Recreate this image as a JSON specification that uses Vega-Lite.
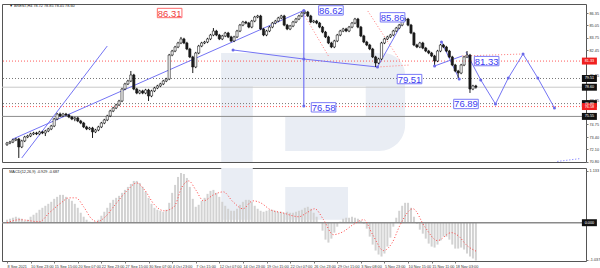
{
"$schema": "https://vega.github.io/schema/vega-lite/v6.json",
"padding": {"left": 0, "right": 0, "top": 3, "bottom": 0},
"spacing": 2,
"background": "#ffffff",
"config": {"view": {"stroke": "#555555", "strokeWidth": 1}, "axis": {"labelFont": "Liberation Sans", "labelFontSize": 3.8, "labelColor": "#333333", "domain": false, "grid": false, "tickSize": 2, "tickColor": "#777777", "labelPadding": 1}},
"datasets": {
"candles": [
{"b":0,"o":72.60,"h":72.89,"l":72.48,"c":72.77},{"b":2,"o":72.77,"h":73.00,"l":72.65,"c":72.88},{"b":4,"o":72.88,"h":73.21,"l":72.76,"c":73.09},{"b":6,"o":73.09,"h":73.31,"l":72.97,"c":73.19},{"b":8,"o":73.19,"h":73.31,"l":71.21,"c":72.36},{"b":10,"o":72.36,"h":73.11,"l":72.24,"c":72.99},{"b":12,"o":72.99,"h":73.52,"l":72.87,"c":73.40},{"b":14,"o":73.40,"h":73.63,"l":73.28,"c":73.51},{"b":16,"o":73.51,"h":73.84,"l":73.39,"c":73.72},{"b":18,"o":73.72,"h":73.94,"l":73.60,"c":73.82},
{"b":20,"o":73.82,"h":73.94,"l":73.60,"c":73.72},{"b":22,"o":73.72,"h":74.05,"l":73.60,"c":73.93},{"b":24,"o":73.93,"h":74.05,"l":73.70,"c":73.82},{"b":26,"o":73.82,"h":74.15,"l":73.50,"c":74.03},{"b":28,"o":74.03,"h":74.36,"l":73.91,"c":74.24},{"b":30,"o":74.24,"h":74.67,"l":74.12,"c":74.55},{"b":32,"o":74.55,"h":75.40,"l":74.43,"c":75.28},{"b":34,"o":75.28,"h":75.92,"l":75.16,"c":75.80},{"b":36,"o":75.80,"h":75.95,"l":75.48,"c":75.60},{"b":38,"o":75.60,"h":75.92,"l":75.48,"c":75.80},
{"b":40,"o":75.80,"h":75.92,"l":75.58,"c":75.70},{"b":42,"o":75.70,"h":75.82,"l":75.37,"c":75.49},{"b":44,"o":75.49,"h":75.61,"l":75.16,"c":75.28},{"b":46,"o":75.28,"h":75.51,"l":75.05,"c":75.39},{"b":48,"o":75.39,"h":75.51,"l":74.95,"c":75.07},{"b":50,"o":75.07,"h":75.19,"l":74.74,"c":74.86},{"b":52,"o":74.86,"h":74.98,"l":74.33,"c":74.45},{"b":54,"o":74.45,"h":74.57,"l":74.12,"c":74.24},{"b":56,"o":74.24,"h":74.46,"l":74.12,"c":74.34},{"b":58,"o":74.34,"h":74.46,"l":73.30,"c":73.93},
{"b":60,"o":73.93,"h":74.25,"l":73.81,"c":74.13},{"b":62,"o":74.13,"h":74.57,"l":74.01,"c":74.45},{"b":64,"o":74.45,"h":74.98,"l":74.33,"c":74.86},{"b":66,"o":74.86,"h":75.30,"l":74.74,"c":75.18},{"b":68,"o":75.18,"h":75.72,"l":75.06,"c":75.60},{"b":70,"o":75.60,"h":76.24,"l":75.48,"c":76.12},{"b":72,"o":76.12,"h":76.55,"l":76.00,"c":76.43},{"b":74,"o":76.43,"h":76.87,"l":76.31,"c":76.75},{"b":76,"o":76.75,"h":77.28,"l":76.63,"c":77.16},{"b":78,"o":77.16,"h":78.53,"l":77.04,"c":78.41},
{"b":80,"o":78.41,"h":79.06,"l":78.29,"c":78.94},{"b":82,"o":78.94,"h":79.37,"l":78.82,"c":79.25},{"b":84,"o":79.25,"h":80.29,"l":79.13,"c":79.88},{"b":86,"o":79.88,"h":80.00,"l":78.29,"c":78.41},{"b":88,"o":78.41,"h":78.53,"l":77.87,"c":77.99},{"b":90,"o":77.99,"h":78.33,"l":77.87,"c":78.21},{"b":92,"o":78.21,"h":78.33,"l":77.87,"c":77.99},{"b":94,"o":77.99,"h":78.43,"l":77.87,"c":78.31},{"b":96,"o":78.31,"h":78.43,"l":77.16,"c":77.68},{"b":98,"o":77.68,"h":78.33,"l":77.56,"c":78.21},
{"b":100,"o":78.21,"h":78.64,"l":78.09,"c":78.52},{"b":102,"o":78.52,"h":78.85,"l":78.40,"c":78.73},{"b":104,"o":78.73,"h":79.06,"l":78.61,"c":78.94},{"b":106,"o":78.94,"h":79.37,"l":78.82,"c":79.25},{"b":108,"o":79.25,"h":79.58,"l":79.13,"c":79.46},{"b":110,"o":79.46,"h":82.08,"l":79.34,"c":81.96},{"b":112,"o":81.96,"h":82.50,"l":81.84,"c":82.38},{"b":114,"o":82.38,"h":82.92,"l":82.26,"c":82.80},{"b":116,"o":82.80,"h":83.34,"l":82.68,"c":83.22},{"b":118,"o":83.22,"h":83.85,"l":83.10,"c":83.64},
{"b":120,"o":83.64,"h":83.76,"l":83.10,"c":83.22},{"b":122,"o":83.22,"h":83.34,"l":82.47,"c":82.59},{"b":124,"o":82.59,"h":82.71,"l":81.64,"c":81.76},{"b":126,"o":81.76,"h":81.88,"l":80.08,"c":80.71},{"b":128,"o":80.71,"h":82.29,"l":80.59,"c":82.17},{"b":130,"o":82.17,"h":83.02,"l":82.05,"c":82.90},{"b":132,"o":82.90,"h":83.34,"l":82.78,"c":83.22},{"b":134,"o":83.22,"h":83.44,"l":83.10,"c":83.32},{"b":136,"o":83.32,"h":83.76,"l":83.20,"c":83.64},{"b":138,"o":83.64,"h":84.17,"l":83.52,"c":84.05},
{"b":140,"o":84.05,"h":84.78,"l":83.93,"c":84.47},{"b":142,"o":84.47,"h":84.59,"l":83.93,"c":84.05},{"b":144,"o":84.05,"h":84.17,"l":83.52,"c":83.64},{"b":146,"o":83.64,"h":84.07,"l":83.52,"c":83.95},{"b":148,"o":83.95,"h":84.38,"l":83.83,"c":84.26},{"b":150,"o":84.26,"h":84.38,"l":83.73,"c":83.85},{"b":152,"o":83.85,"h":83.97,"l":83.31,"c":83.43},{"b":154,"o":83.43,"h":83.97,"l":83.31,"c":83.85},{"b":156,"o":83.85,"h":84.59,"l":83.73,"c":84.47},{"b":158,"o":84.47,"h":85.21,"l":84.35,"c":85.09},
{"b":160,"o":85.09,"h":85.53,"l":84.97,"c":85.41},{"b":162,"o":85.41,"h":85.53,"l":85.18,"c":85.30},{"b":164,"o":85.30,"h":85.42,"l":84.76,"c":84.88},{"b":166,"o":84.88,"h":85.63,"l":84.76,"c":85.51},{"b":168,"o":85.51,"h":86.05,"l":85.39,"c":85.93},{"b":170,"o":85.93,"h":86.16,"l":85.81,"c":86.04},{"b":172,"o":86.04,"h":86.16,"l":84.56,"c":84.68},{"b":174,"o":84.68,"h":84.80,"l":83.93,"c":84.05},{"b":176,"o":84.05,"h":84.59,"l":83.93,"c":84.47},{"b":178,"o":84.47,"h":85.00,"l":84.35,"c":84.88},
{"b":180,"o":84.88,"h":85.42,"l":84.76,"c":85.30},{"b":182,"o":85.30,"h":85.63,"l":85.18,"c":85.51},{"b":184,"o":85.51,"h":85.95,"l":85.39,"c":85.83},{"b":186,"o":85.83,"h":86.16,"l":85.71,"c":86.04},{"b":188,"o":86.04,"h":86.16,"l":84.97,"c":85.09},{"b":190,"o":85.09,"h":85.21,"l":84.56,"c":84.68},{"b":192,"o":84.68,"h":85.11,"l":84.56,"c":84.99},{"b":194,"o":84.99,"h":85.53,"l":84.87,"c":85.41},{"b":196,"o":85.41,"h":85.84,"l":85.29,"c":85.72},{"b":198,"o":85.72,"h":86.16,"l":85.60,"c":86.04},
{"b":200,"o":86.04,"h":86.47,"l":85.92,"c":86.35},{"b":202,"o":86.35,"h":86.62,"l":86.23,"c":86.45},{"b":204,"o":86.45,"h":86.57,"l":85.92,"c":86.04},{"b":206,"o":86.04,"h":86.16,"l":85.29,"c":85.41},{"b":208,"o":85.41,"h":85.63,"l":85.29,"c":85.51},{"b":210,"o":85.51,"h":85.63,"l":85.18,"c":85.30},{"b":212,"o":85.30,"h":85.42,"l":84.76,"c":84.88},{"b":214,"o":84.88,"h":85.00,"l":84.24,"c":84.36},{"b":216,"o":84.36,"h":84.48,"l":83.73,"c":83.85},{"b":218,"o":83.85,"h":83.97,"l":83.10,"c":83.22},
{"b":220,"o":83.22,"h":83.34,"l":82.68,"c":82.80},{"b":222,"o":82.80,"h":83.55,"l":82.68,"c":83.43},{"b":224,"o":83.43,"h":84.17,"l":83.31,"c":84.05},{"b":226,"o":84.05,"h":84.59,"l":83.93,"c":84.47},{"b":228,"o":84.47,"h":84.80,"l":84.35,"c":84.68},{"b":230,"o":84.68,"h":84.80,"l":84.35,"c":84.47},{"b":232,"o":84.47,"h":85.00,"l":84.35,"c":84.88},{"b":234,"o":84.88,"h":85.42,"l":84.76,"c":85.30},{"b":236,"o":85.30,"h":85.84,"l":85.18,"c":85.72},{"b":238,"o":85.72,"h":85.84,"l":84.76,"c":84.88},
{"b":240,"o":84.88,"h":85.00,"l":83.83,"c":83.95},{"b":242,"o":83.95,"h":84.07,"l":83.20,"c":83.32},{"b":244,"o":83.32,"h":83.44,"l":82.89,"c":83.01},{"b":246,"o":83.01,"h":83.13,"l":82.47,"c":82.59},{"b":248,"o":82.59,"h":82.71,"l":81.64,"c":81.76},{"b":250,"o":81.76,"h":81.88,"l":80.71,"c":81.13},{"b":252,"o":81.13,"h":81.67,"l":81.01,"c":81.55},{"b":254,"o":81.55,"h":83.34,"l":81.43,"c":83.22},{"b":256,"o":83.22,"h":83.76,"l":83.10,"c":83.64},{"b":258,"o":83.64,"h":83.97,"l":83.52,"c":83.85},
{"b":260,"o":83.85,"h":84.17,"l":83.73,"c":84.05},{"b":262,"o":84.05,"h":84.59,"l":83.93,"c":84.47},{"b":264,"o":84.47,"h":84.90,"l":84.35,"c":84.78},{"b":266,"o":84.78,"h":85.21,"l":84.66,"c":85.09},{"b":268,"o":85.09,"h":85.74,"l":84.97,"c":85.62},{"b":270,"o":85.62,"h":85.86,"l":85.50,"c":85.72},{"b":272,"o":85.72,"h":85.84,"l":84.97,"c":85.09},{"b":274,"o":85.09,"h":85.21,"l":84.14,"c":84.26},{"b":276,"o":84.26,"h":84.38,"l":82.89,"c":83.01},{"b":278,"o":83.01,"h":83.13,"l":82.68,"c":82.80},
{"b":280,"o":82.80,"h":83.34,"l":82.68,"c":83.22},{"b":282,"o":83.22,"h":83.34,"l":82.57,"c":82.69},{"b":284,"o":82.69,"h":82.81,"l":82.26,"c":82.38},{"b":286,"o":82.38,"h":82.50,"l":82.05,"c":82.17},{"b":288,"o":82.17,"h":82.29,"l":81.74,"c":81.86},{"b":290,"o":81.86,"h":81.98,"l":80.85,"c":81.34},{"b":292,"o":81.34,"h":82.50,"l":81.22,"c":82.38},{"b":294,"o":82.38,"h":83.13,"l":82.26,"c":83.01},{"b":296,"o":83.01,"h":83.13,"l":82.68,"c":82.80},{"b":298,"o":82.80,"h":82.92,"l":82.26,"c":82.38},
{"b":300,"o":82.38,"h":82.50,"l":81.64,"c":81.76},{"b":302,"o":81.76,"h":81.88,"l":80.80,"c":80.92},{"b":304,"o":80.92,"h":81.04,"l":80.17,"c":80.29},{"b":306,"o":80.29,"h":80.41,"l":79.51,"c":80.08},{"b":308,"o":80.08,"h":81.04,"l":79.96,"c":80.92},{"b":310,"o":80.92,"h":81.88,"l":80.80,"c":81.76},{"b":312,"o":81.76,"h":82.38,"l":81.64,"c":81.96},{"b":314,"o":81.96,"h":82.08,"l":78.00,"c":78.41},{"b":316,"o":78.41,"h":78.85,"l":78.29,"c":78.73},{"b":318,"o":78.73,"h":78.85,"l":78.45,"c":78.60}
],
"hist": [
{"b":0,"v":0.06},{"b":2,"v":0.08},{"b":4,"v":0.10},{"b":6,"v":0.12},{"b":8,"v":0.10},{"b":10,"v":0.08},{"b":12,"v":0.04},{"b":14,"v":0.06},{"b":16,"v":0.12},{"b":18,"v":0.16},
{"b":20,"v":0.20},{"b":22,"v":0.26},{"b":24,"v":0.30},{"b":26,"v":0.34},{"b":28,"v":0.38},{"b":30,"v":0.42},{"b":32,"v":0.48},{"b":34,"v":0.52},{"b":36,"v":0.56},{"b":38,"v":0.56},
{"b":40,"v":0.52},{"b":42,"v":0.48},{"b":44,"v":0.44},{"b":46,"v":0.38},{"b":48,"v":0.30},{"b":50,"v":0.20},{"b":52,"v":0.12},{"b":54,"v":0.06},{"b":56,"v":0.02},{"b":58,"v":-0.01},
{"b":60,"v":0.02},{"b":62,"v":0.06},{"b":64,"v":0.14},{"b":66,"v":0.22},{"b":68,"v":0.30},{"b":70,"v":0.40},{"b":72,"v":0.46},{"b":74,"v":0.50},{"b":76,"v":0.54},{"b":78,"v":0.60},
{"b":80,"v":0.66},{"b":82,"v":0.72},{"b":84,"v":0.78},{"b":86,"v":0.84},{"b":88,"v":0.84},{"b":90,"v":0.80},{"b":92,"v":0.72},{"b":94,"v":0.62},{"b":96,"v":0.50},{"b":98,"v":0.38},
{"b":100,"v":0.30},{"b":102,"v":0.26},{"b":104,"v":0.24},{"b":106,"v":0.22},{"b":108,"v":0.26},{"b":110,"v":0.40},{"b":112,"v":0.60},{"b":114,"v":0.76},{"b":116,"v":0.92},{"b":118,"v":1.00},
{"b":120,"v":0.98},{"b":122,"v":0.90},{"b":124,"v":0.72},{"b":126,"v":0.48},{"b":128,"v":0.32},{"b":130,"v":0.36},{"b":132,"v":0.44},{"b":134,"v":0.50},{"b":136,"v":0.58},{"b":138,"v":0.64},
{"b":140,"v":0.66},{"b":142,"v":0.60},{"b":144,"v":0.52},{"b":146,"v":0.42},{"b":148,"v":0.34},{"b":150,"v":0.28},{"b":152,"v":0.24},{"b":154,"v":0.24},{"b":156,"v":0.28},{"b":158,"v":0.36},
{"b":160,"v":0.42},{"b":162,"v":0.46},{"b":164,"v":0.46},{"b":166,"v":0.42},{"b":168,"v":0.34},{"b":170,"v":0.28},{"b":172,"v":0.24},{"b":174,"v":0.22},{"b":176,"v":0.24},{"b":178,"v":0.26},
{"b":180,"v":0.26},{"b":182,"v":0.24},{"b":184,"v":0.22},{"b":186,"v":0.22},{"b":188,"v":0.20},{"b":190,"v":0.22},{"b":192,"v":0.20},{"b":194,"v":0.20},{"b":196,"v":0.22},{"b":198,"v":0.24},
{"b":200,"v":0.26},{"b":202,"v":0.30},{"b":204,"v":0.32},{"b":206,"v":0.28},{"b":208,"v":0.20},{"b":210,"v":0.12},{"b":212,"v":0.00},{"b":214,"v":-0.16},{"b":216,"v":-0.34},{"b":218,"v":-0.40},
{"b":220,"v":-0.32},{"b":222,"v":-0.20},{"b":224,"v":-0.08},{"b":226,"v":0.02},{"b":228,"v":0.08},{"b":230,"v":0.10},{"b":232,"v":0.10},{"b":234,"v":0.12},{"b":236,"v":0.10},{"b":238,"v":0.08},
{"b":240,"v":0.04},{"b":242,"v":-0.02},{"b":244,"v":-0.12},{"b":246,"v":-0.28},{"b":248,"v":-0.44},{"b":250,"v":-0.56},{"b":252,"v":-0.64},{"b":254,"v":-0.68},{"b":256,"v":-0.62},{"b":258,"v":-0.48},
{"b":260,"v":-0.30},{"b":262,"v":-0.08},{"b":264,"v":0.10},{"b":266,"v":0.24},{"b":268,"v":0.34},{"b":270,"v":0.40},{"b":272,"v":0.40},{"b":274,"v":0.30},{"b":276,"v":0.12},{"b":278,"v":-0.02},
{"b":280,"v":-0.14},{"b":282,"v":-0.22},{"b":284,"v":-0.32},{"b":286,"v":-0.42},{"b":288,"v":-0.48},{"b":290,"v":-0.50},{"b":292,"v":-0.44},{"b":294,"v":-0.36},{"b":296,"v":-0.28},{"b":298,"v":-0.28},
{"b":300,"v":-0.34},{"b":302,"v":-0.44},{"b":304,"v":-0.52},{"b":306,"v":-0.52},{"b":308,"v":-0.50},{"b":310,"v":-0.54},{"b":312,"v":-0.62},{"b":314,"v":-0.68},{"b":316,"v":-0.72},{"b":318,"v":-0.76}
],
"signal": [
{"b":0,"v":0.00},{"b":8.7,"v":0.06},{"b":22,"v":0.02},{"b":28.7,"v":0.20},{"b":36.7,"v":0.40},{"b":42,"v":0.50},{"b":46.7,"v":0.50},{"b":52,"v":0.32},{"b":57.3,"v":0.08},{"b":61.3,"v":0.02},{"b":66.7,"v":0.12},{"b":73.3,"v":0.36},{"b":81.3,"v":0.64},{"b":88,"v":0.80},{"b":93.3,"v":0.66},{"b":100,"v":0.36},{"b":106.7,"v":0.24},{"b":113.3,"v":0.32},{"b":118.7,"v":0.72},{"b":123.3,"v":0.84},{"b":128,"v":0.66},{"b":133.3,"v":0.44},{"b":140,"v":0.56},{"b":146.7,"v":0.62},{"b":153.3,"v":0.42},{"b":160,"v":0.28},{"b":166.7,"v":0.44},{"b":172,"v":0.40},{"b":178.7,"v":0.26},{"b":186.7,"v":0.20},{"b":198,"v":0.12},{"b":203.3,"v":0.20},{"b":208.7,"v":0.28},{"b":214.7,"v":0.06},{"b":221.3,"v":-0.24},{"b":228,"v":-0.18},{"b":234.7,"v":-0.04},{"b":242,"v":0.06},{"b":248,"v":-0.24},{"b":255.3,"v":-0.56},{"b":261.3,"v":-0.40},{"b":266.7,"v":-0.04},{"b":275.3,"v":0.28},{"b":283.3,"v":-0.08},{"b":292,"v":-0.36},{"b":301.3,"v":-0.20},{"b":306.7,"v":-0.28},{"b":311.3,"v":-0.44},{"b":318.7,"v":-0.58}
]
},
"vconcat": [
{
"width": 584, "height": 158,
"resolve": {"axis": {"x": "independent", "y": "independent"}},
"layer": [
{"data": {"values": [{"b":145.3,"b2":270,"p":82.17,"p2":71.94}]}, "mark": {"type":"rect","fill":"#e9edf4","cornerRadiusTopRight":22,"cornerRadiusBottomRight":26},
 "encoding": {"x":{"field":"b","type":"quantitative","scale":{"domain":[0,389.3],"nice":false,"zero":false},"axis":null},"x2":{"field":"b2"},"y":{"field":"p","type":"quantitative","scale":{"domain":[70.79,87.29],"nice":false,"zero":false},"axis":null},"y2":{"field":"p2"}}},
{"data": {"values": [{"b":145.3,"b2":166.7,"p":82.17,"p2":70.79}]}, "mark": {"type":"rect","fill":"#e9edf4"},
 "encoding": {"x":{"field":"b","type":"quantitative","scale":{"domain":[0,389.3],"nice":false,"zero":false},"axis":null},"x2":{"field":"b2"},"y":{"field":"p","type":"quantitative","scale":{"domain":[70.79,87.29],"nice":false,"zero":false},"axis":null},"y2":{"field":"p2"}}},
{"data": {"values": [{"b":166.7,"b2":243.3,"p":78.7,"p2":75.6},{"b":166.7,"b2":188.7,"p":75.6,"p2":70.79}]}, "mark": {"type":"rect","fill":"#ffffff"},
 "encoding": {"x":{"field":"b","type":"quantitative","scale":{"domain":[0,389.3],"nice":false,"zero":false},"axis":null},"x2":{"field":"b2"},"y":{"field":"p","type":"quantitative","scale":{"domain":[70.79,87.29],"nice":false,"zero":false},"axis":null},"y2":{"field":"p2"}}},
{"data": {"values": [{"p":81.33},{"p":76.58}]}, "mark": {"type":"rule","color":"#ff5a5a","strokeDash":[1,2],"strokeWidth":1},
 "encoding": {"y":{"field":"p","type":"quantitative","scale":{"domain":[70.79,87.29],"nice":false,"zero":false},"axis":{"orient":"right","title":null,"values":[86.35,85.05,83.75,82.45,79.85,77.25,74.75,73.40,72.10,70.80],"format":".2f","minExtent":16,"maxExtent":16,"labelOverlap":false}}}},
{"data": {"values": [{"p":79.51},{"p":76.89}]}, "mark": {"type":"rule","color":"#777777","strokeDash":[1,2],"strokeWidth":1},
 "encoding": {"y":{"field":"p","type":"quantitative","scale":{"domain":[70.79,87.29],"nice":false,"zero":false},"axis":null}}},
{"data": {"values": [{"p":78.60}]}, "mark": {"type":"rule","color":"#c8c8c8","strokeWidth":1},
 "encoding": {"y":{"field":"p","type":"quantitative","scale":{"domain":[70.79,87.29],"nice":false,"zero":false},"axis":null}}},
{"data": {"values": [{"p":75.55}]}, "mark": {"type":"rule","color":"#8c8c8c","strokeWidth":1},
 "encoding": {"y":{"field":"p","type":"quantitative","scale":{"domain":[70.79,87.29],"nice":false,"zero":false},"axis":null}}},
{"data": {"values": [{"g":"a","b":200,"p":86.56},{"g":"a","b":218,"p":81.86},{"g":"b","b":244.7,"p":86.56},{"g":"b","b":266.7,"p":81.34},{"g":"c","b":308.7,"p":81.86},{"g":"c","b":350,"p":82.07},{"g":"d","b":251.3,"p":80.71},{"g":"d","b":273,"p":80.92}]}, "mark": {"type":"line","color":"#ff7a7a","strokeDash":[1,2],"strokeWidth":1},
 "encoding": {"x":{"field":"b","type":"quantitative","scale":{"domain":[0,389.3],"nice":false,"zero":false},"axis":null},"y":{"field":"p","type":"quantitative","scale":{"domain":[70.79,87.29],"nice":false,"zero":false},"axis":null},"detail":{"field":"g"}}},
{"data": {"values": [{"g":"a","b":373.3,"p":70.85},{"g":"a","b":389,"p":71.15}]}, "mark": {"type":"line","color":"#6a6aff","strokeDash":[1,2],"strokeWidth":1},
 "encoding": {"x":{"field":"b","type":"quantitative","scale":{"domain":[0,389.3],"nice":false,"zero":false},"axis":null},"y":{"field":"p","type":"quantitative","scale":{"domain":[70.79,87.29],"nice":false,"zero":false},"axis":null},"detail":{"field":"g"}}},
{"data": {"values": [
 {"g":"A","b":10,"p":71.21},{"g":"A","b":68,"p":82.90},
 {"g":"B","b":3.3,"p":73.14},{"g":"B","b":201.3,"p":86.62},
 {"g":"C","b":153.3,"p":82.49},{"g":"C","b":201.3,"p":81.54},{"g":"C","b":251.3,"p":80.71},
 {"g":"D","b":251.3,"p":80.71},{"g":"D","b":270,"p":85.86},
 {"g":"E","b":290,"p":80.82},{"g":"E","b":308.7,"p":81.86},
 {"g":"F","b":294.7,"p":83.32},{"g":"F","b":306.7,"p":79.46},
 {"g":"Z","b":311.3,"p":82.28},{"g":"Z","b":321.3,"p":79.36},{"g":"Z","b":331.3,"p":76.85},{"g":"Z","b":340,"p":79.56},{"g":"Z","b":350,"p":82.07},{"g":"Z","b":360,"p":79.56},{"g":"Z","b":371.3,"p":76.43}
 ]}, "mark": {"type":"line","color":"#7474f4","strokeWidth":1},
 "encoding": {"x":{"field":"b","type":"quantitative","scale":{"domain":[0,389.3],"nice":false,"zero":false},"axis":null},"y":{"field":"p","type":"quantitative","scale":{"domain":[70.79,87.29],"nice":false,"zero":false},"axis":null},"detail":{"field":"g"}}},
{"data": {"values": [{"b":201.3,"p":86.62,"p2":76.58}]}, "mark": {"type":"rule","color":"#7474f4","strokeWidth":1.2},
 "encoding": {"x":{"field":"b","type":"quantitative","scale":{"domain":[0,389.3],"nice":false,"zero":false},"axis":null},"y":{"field":"p","type":"quantitative","scale":{"domain":[70.79,87.29],"nice":false,"zero":false},"axis":null},"y2":{"field":"p2"}}},
{"data": {"name": "candles"}, "mark": {"type":"rule","color":"#1a1a1a","strokeWidth":1},
 "encoding": {"x":{"field":"b","type":"quantitative","scale":{"domain":[0,389.3],"nice":false,"zero":false},"axis":null},"y":{"field":"l","type":"quantitative","scale":{"domain":[70.79,87.29],"nice":false,"zero":false},"axis":null},"y2":{"field":"h"}}},
{"data": {"name": "candles"}, "mark": {"type":"bar","size":2.2,"stroke":"#1a1a1a","strokeWidth":0.6},
 "encoding": {"x":{"field":"b","type":"quantitative","scale":{"domain":[0,389.3],"nice":false,"zero":false},"axis":null},"y":{"field":"o","type":"quantitative","scale":{"domain":[70.79,87.29],"nice":false,"zero":false},"axis":null},"y2":{"field":"c"},
  "fill":{"condition":{"test":"datum.c >= datum.o","value":"#ffffff"},"value":"#1a1a1a"}}},
{"data": {"values": [{"b":153.3,"p":82.49},{"b":201.3,"p":81.54},{"b":251.3,"p":80.71},{"b":201.3,"p":76.64},{"b":321.3,"p":79.36},{"b":331.3,"p":76.85},{"b":340,"p":79.56},{"b":350,"p":82.07},{"b":360,"p":79.56},{"b":371.3,"p":76.43},{"b":290,"p":80.82},{"b":294.7,"p":83.32},{"b":306.7,"p":79.46},{"b":201.3,"p":86.62}]}, "mark": {"type":"point","filled":true,"color":"#6a6ae8","size":9,"opacity":1},
 "encoding": {"x":{"field":"b","type":"quantitative","scale":{"domain":[0,389.3],"nice":false,"zero":false},"axis":null},"y":{"field":"p","type":"quantitative","scale":{"domain":[70.79,87.29],"nice":false,"zero":false},"axis":null}}},
{"data": {"values": [{"b":110.3,"p":86.35,"t":"86.31","k":"r"},{"b":219.7,"p":86.62,"t":"86.62","k":"b"},{"b":261.5,"p":85.90,"t":"85.86","k":"b"},{"b":273,"p":79.45,"t":"79.51","k":"b"},{"b":325.3,"p":81.33,"t":"81.33","k":"b"},{"b":311.3,"p":76.85,"t":"76.89","k":"b"},{"b":214.7,"p":76.50,"t":"76.58","k":"b"}]},
 "layer": [
  {"mark": {"type":"point","shape":"M-2.05,-0.78H2.05V0.78H-2.05Z","size":144,"filled":true,"fill":"#ffffff","strokeWidth":1,"opacity":1},
   "encoding": {"x":{"field":"b","type":"quantitative","scale":{"domain":[0,389.3],"nice":false,"zero":false},"axis":null},"y":{"field":"p","type":"quantitative","scale":{"domain":[70.79,87.29],"nice":false,"zero":false},"axis":null},
    "stroke":{"condition":{"test":"datum.k == 'r'","value":"#ff6a6a"},"value":"#7a7af6"}}},
  {"mark": {"type":"text","font":"Liberation Sans","fontSize":9.5,"align":"center","baseline":"middle","dy":0.5},
   "encoding": {"x":{"field":"b","type":"quantitative","scale":{"domain":[0,389.3],"nice":false,"zero":false},"axis":null},"y":{"field":"p","type":"quantitative","scale":{"domain":[70.79,87.29],"nice":false,"zero":false},"axis":null},"text":{"field":"t"},
    "color":{"condition":{"test":"datum.k == 'r'","value":"#f03c3c"},"value":"#3c3cf0"}}}
 ]},
{"data": {"values": [{"p":81.33,"t":"81.33","k":"r"},{"p":79.51,"t":"79.51","k":"k"},{"p":78.60,"t":"78.60","k":"k"},{"p":76.89,"t":"76.89","k":"k"},{"p":76.58,"t":"76.58","k":"r"},{"p":75.55,"t":"75.55","k":"k"}]},
 "layer": [
  {"mark": {"type":"point","shape":"M-1.25,-0.58H1.25V0.58H-1.25Z","size":144,"filled":true,"opacity":1,"strokeWidth":0},
   "encoding": {"x":{"datum":395,"type":"quantitative","scale":{"domain":[0,389.3],"nice":false,"zero":false},"axis":null},"y":{"field":"p","type":"quantitative","scale":{"domain":[70.79,87.29],"nice":false,"zero":false},"axis":null},
    "fill":{"condition":{"test":"datum.k == 'r'","value":"#f02020"},"value":"#111111"}}},
  {"mark": {"type":"text","font":"Liberation Sans","fontSize":3.8,"align":"center","baseline":"middle","color":"#ffffff"},
   "encoding": {"x":{"datum":395,"type":"quantitative","scale":{"domain":[0,389.3],"nice":false,"zero":false},"axis":null},"y":{"field":"p","type":"quantitative","scale":{"domain":[70.79,87.29],"nice":false,"zero":false},"axis":null},"text":{"field":"t"}}}
 ]},
{"data": {"values": [{"b":1.5,"p":87.05,"t":"▼ BRENT,H4  78.72 78.85 78.45 78.60"}]}, "mark": {"type":"text","font":"Liberation Sans","fontSize":3.8,"align":"left","baseline":"middle","color":"#222222"},
 "encoding": {"x":{"field":"b","type":"quantitative","scale":{"domain":[0,389.3],"nice":false,"zero":false},"axis":null},"y":{"field":"p","type":"quantitative","scale":{"domain":[70.79,87.29],"nice":false,"zero":false},"axis":null},"text":{"field":"t"}}}
]
},
{
"width": 584, "height": 93,
"resolve": {"axis": {"x": "independent", "y": "independent"}},
"layer": [
{"data": {"values": [{"b":145.3,"b2":166.7,"v":1.1,"v2":0.06},{"b":188.7,"b2":231.3,"v":0.72,"v2":0.06}]}, "mark": {"type":"rect","fill":"#e9edf4"},
 "encoding": {"x":{"field":"b","type":"quantitative","scale":{"domain":[0,389.3],"nice":false,"zero":false},"axis":null},"x2":{"field":"b2"},"y":{"field":"v","type":"quantitative","scale":{"domain":[-0.77,1.1],"nice":false,"zero":false},"axis":null},"y2":{"field":"v2"}}},
{"data": {"name": "hist"}, "mark": {"type":"bar","size":2,"color":"#d2d2d2"},
 "encoding": {"x":{"field":"b","type":"quantitative","scale":{"domain":[0,389.3],"nice":false,"zero":false},
   "axis":{"orient":"bottom","title":null,"values":[0,16,32,48,64,80,96,112,128,144,160,176,192,208,224,240,256,272,288,304],"labelExpr":"['8 Sep 2021','10 Sep 23:00','15 Sep 15:00','20 Sep 07:00','22 Sep 23:00','27 Sep 15:00','30 Sep 07:00','4 Oct 23:00','7 Oct 15:00','12 Oct 07:00','14 Oct 23:00','19 Oct 15:00','22 Oct 07:00','26 Oct 23:00','29 Oct 15:00','3 Nov 08:00','5 Nov 23:00','10 Nov 15:00','15 Nov 11:00','18 Nov 03:00'][round(datum.value/16)]","labelAlign":"left","labelFlush":false,"labelOverlap":false,"minExtent":12,"maxExtent":12}},
  "y":{"field":"v","type":"quantitative","scale":{"domain":[-0.77,1.1],"nice":false,"zero":false},
   "axis":{"orient":"right","title":null,"values":[1.04,-0.74],"labelExpr":"datum.value > 0 ? '1.133' : '-1.037'","minExtent":16,"maxExtent":16,"labelOverlap":false}},
  "y2":{"datum":0}}},
{"data": {"values": [{"v":0}]}, "mark": {"type":"rule","color":"#8a8a8a","strokeWidth":1.5},
 "encoding": {"y":{"field":"v","type":"quantitative","scale":{"domain":[-0.77,1.1],"nice":false,"zero":false},"axis":null}}},
{"data": {"name": "signal"}, "mark": {"type":"line","color":"#ff4040","strokeDash":[1,2],"strokeWidth":1,"interpolate":"monotone"},
 "encoding": {"x":{"field":"b","type":"quantitative","scale":{"domain":[0,389.3],"nice":false,"zero":false},"axis":null},"y":{"field":"v","type":"quantitative","scale":{"domain":[-0.77,1.1],"nice":false,"zero":false},"axis":null}}},
{"data": {"values": [{"b":1.5,"v":1.02,"t":"MACD(12,26,9) -0.929 -0.687"}]}, "mark": {"type":"text","font":"Liberation Sans","fontSize":3.8,"align":"left","baseline":"middle","color":"#222222"},
 "encoding": {"x":{"field":"b","type":"quantitative","scale":{"domain":[0,389.3],"nice":false,"zero":false},"axis":null},"y":{"field":"v","type":"quantitative","scale":{"domain":[-0.77,1.1],"nice":false,"zero":false},"axis":null},"text":{"field":"t"}}},
{"data": {"values": [{"v":0,"t":"0.000"}]},
 "layer": [
  {"mark": {"type":"point","shape":"M-1.25,-0.58H1.25V0.58H-1.25Z","size":144,"filled":true,"opacity":1,"strokeWidth":0,"fill":"#111111"},
   "encoding": {"x":{"datum":395,"type":"quantitative","scale":{"domain":[0,389.3],"nice":false,"zero":false},"axis":null},"y":{"field":"v","type":"quantitative","scale":{"domain":[-0.77,1.1],"nice":false,"zero":false},"axis":null}}},
  {"mark": {"type":"text","font":"Liberation Sans","fontSize":3.8,"align":"center","baseline":"middle","color":"#ffffff"},
   "encoding": {"x":{"datum":395,"type":"quantitative","scale":{"domain":[0,389.3],"nice":false,"zero":false},"axis":null},"y":{"field":"v","type":"quantitative","scale":{"domain":[-0.77,1.1],"nice":false,"zero":false},"axis":null},"text":{"field":"t"}}}
 ]}
]
}
]
}
